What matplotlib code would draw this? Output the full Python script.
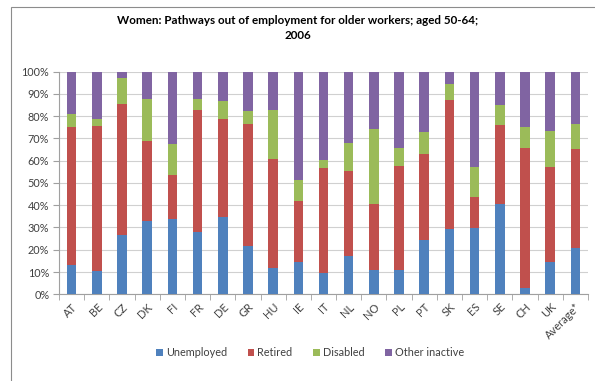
import numpy as np
import matplotlib.pyplot as plt
from matplotlib.patches import Rectangle

plt.rcParams['font.family'] = ['Lato', 'DejaVu Sans']

countries = ['AT', 'BE', 'CZ', 'DK', 'FI', 'FR', 'DE', 'GR', 'HU', 'IE', 'IT',
             'NL', 'NO', 'PL', 'PT', 'SK', 'ES', 'SE', 'CH', 'UK', 'Average*']

# shares in percent
unemployed = [13.3, 10.3, 26.6, 32.8, 33.9, 28.0, 34.5, 21.6, 11.8, 14.6, 9.7,
              17.3, 10.8, 11.1, 24.4, 29.1, 29.7, 40.5, 3.0, 14.6, 20.8]
retired = [62.0, 65.3, 59.0, 36.1, 19.5, 54.5, 44.1, 54.9, 49.0, 27.3, 47.1,
           37.9, 29.9, 46.6, 38.7, 58.2, 13.8, 35.7, 62.6, 42.5, 44.2]
disabled = [5.7, 3.3, 11.4, 18.7, 13.9, 5.1, 8.2, 5.7, 21.7, 9.5, 3.6,
            12.5, 33.3, 7.8, 9.8, 6.9, 13.6, 8.7, 9.7, 16.4, 11.5]
other = [100 - u - r - d for u, r, d in zip(unemployed, retired, disabled)]

series = [('Unemployed', unemployed, '#4F81BD'),
          ('Retired', retired, '#C0504D'),
          ('Disabled', disabled, '#9BBB59'),
          ('Other inactive', other, '#8064A2')]

fig = plt.figure(figsize=(5.95, 3.81), dpi=100)
fig.patches.append(Rectangle((11 / 595, -0.1), 1.2, 1 - 7 / 381 + 0.1,
                             transform=fig.transFigure, fill=False,
                             edgecolor='#8c8c8c', linewidth=0.8))

ax = fig.add_axes([59 / 595, 1 - 294.3 / 381, 529 / 595, 222.8 / 381])
x = np.arange(len(countries))
bottom = np.zeros(len(countries))
for name, vals, color in series:
    ax.bar(x, vals, width=0.38, bottom=bottom, color=color, label=name, zorder=3)
    bottom += np.array(vals)

ax.set_xlim(-0.5, len(countries) - 0.5)
ax.set_ylim(0, 100)
ax.set_yticks(np.arange(0, 101, 10))
ax.set_yticklabels([f'{v}%' for v in range(0, 101, 10)], fontsize=7.8, color='#404040')
ax.yaxis.grid(True, color='#d0d0d0', linewidth=0.8, zorder=0)

ax.set_xticks(x)
ax.set_xticklabels(countries, rotation=45, ha='right', rotation_mode='anchor',
                   fontsize=8, color='#404040')
ax.tick_params(axis='x', length=0, pad=5)
ax.set_xticks(np.arange(-0.5, len(countries), 1), minor=True)
ax.tick_params(axis='x', which='minor', length=4, color='#a0a0a0', direction='out')
ax.tick_params(axis='y', length=4, color='#a0a0a0', pad=3)

for side in ['top', 'right']:
    ax.spines[side].set_visible(False)
ax.spines['left'].set_color('#a0a0a0')
ax.spines['bottom'].set_color('#a0a0a0')

fig.suptitle('Women: Pathways out of employment for older workers; aged 50-64;\n2006',
             x=0.5, y=1 - 15 / 381, fontsize=8.4, fontweight='bold', linespacing=1.45,
             va='top')

fig.legend(loc='center', bbox_to_anchor=(310 / 595, 1 - 353 / 381), ncol=4,
           frameon=False, fontsize=7.8, handlelength=0.6, handleheight=0.6,
           handletextpad=0.3, columnspacing=1.9, labelcolor='#404040')

fig.savefig('out.png', dpi=100)
